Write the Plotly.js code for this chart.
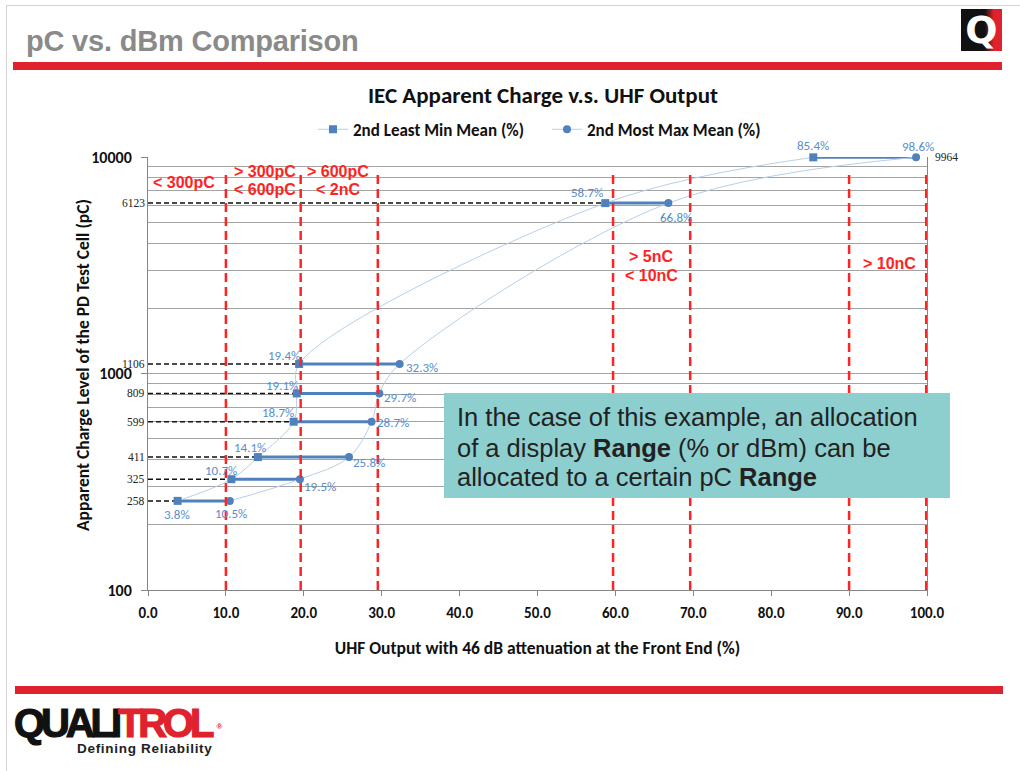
<!DOCTYPE html>
<html>
<head>
<meta charset="utf-8">
<script src="https://cdn.plot.ly/plotly-3.0.1.min.js"></script>
<style>
  html, body { margin: 0; padding: 0; background: #fff; }
  #wrap { position: relative; width: 1020px; height: 771px; overflow: hidden; }
  #chart { position: absolute; left: 0; top: 0; width: 1020px; height: 771px; }
  .chrome { position: absolute; pointer-events: none; }
  #frameTop { left: 6px; top: 5px; width: 1014px; height: 0; border-top: 1px solid #d4d4d4; }
  #frameLeft { left: 6px; top: 5px; width: 0; height: 766px; border-left: 1px solid #d4d4d4; }
  #slideTitle { left: 26px; top: 23px; font-family: "Liberation Sans", Arial, sans-serif; font-weight: bold;
    font-size: 29px; color: #8a8a8a; white-space: nowrap; letter-spacing: -0.2px; line-height: 36px; }
  #barTop { left: 13px; top: 62px; width: 989px; height: 8px; background: #e0212e; }
  #barBottom { left: 15px; top: 686px; width: 988px; height: 8px; background: #e0212e; }
  #qlogo { left: 961px; top: 9px; width: 41px; height: 42px;
    background: linear-gradient(90deg, #111 0%, #111 58%, #e0212e 80%, #e0212e 100%); }
  #qlogo span { position: absolute; left: 0; top: 0; width: 41px; text-align: center; font-family: "DejaVu Sans", sans-serif;
    font-weight: bold; font-size: 38px; color: #fff; line-height: 42px; }
  #brand { left: 14px; top: 707px; height: 32px; font-family: "Liberation Sans", Arial, sans-serif; font-weight: bold;
    font-size: 40px; letter-spacing: -4.1px; white-space: nowrap; -webkit-text-stroke: 1.2px currentColor; line-height: 32px; }
  #brand span { display: inline-block; height: 32px; line-height: 32px; vertical-align: top; overflow: visible; }
  #brand .q { color: #111; }
  #brand .t { color: #e0212e; }
  #brand .r { font-size: 8px; letter-spacing: 0; -webkit-text-stroke: 0; line-height: 12px; height: 12px; margin: 14px 0 0 6px; }
  #tagline { left: 77px; top: 742px; font-family: "Liberation Sans", Arial, sans-serif; font-weight: bold;
    font-size: 13.5px; color: #222; white-space: nowrap; letter-spacing: 0.7px; line-height: 14px; }
</style>
</head>
<body>
<div id="wrap">
  <div id="chart"></div>
  <div class="chrome" id="frameTop"></div>
  <div class="chrome" id="frameLeft"></div>
  <div class="chrome" id="slideTitle">pC vs. dBm Comparison</div>
  <div class="chrome" id="barTop"></div>
  <div class="chrome" id="qlogo"><span>Q</span></div>
  <div class="chrome" id="barBottom"></div>
  <div class="chrome" id="brand"><span class="q">QUALI</span><span class="t">TROL</span><span class="t r">®</span></div>
  <div class="chrome" id="tagline">Defining Reliability</div>
</div>
<script>
// ---------------- data ----------------
const chargeLevels = [258, 325, 411, 599, 809, 1106, 6123, 9964];   // pC
const minMean = [3.8, 10.7, 14.1, 18.7, 19.1, 19.4, 58.7, 85.4];    // 2nd Least Min Mean (%)
const maxMean = [10.5, 19.5, 25.8, 28.7, 29.7, 32.3, 66.8, 98.6];   // 2nd Most Max Mean (%)
const seriesNames = ['2nd Least Min Mean (%)', '2nd Most Max Mean (%)'];
const rangeBoundaries = [10, 19.6, 29.5, 59.7, 69.6, 90, 99.9];      // % boundaries (red dashed)
const rangeLabels = ['< 300pC', '> 300pC', '< 600pC', '> 600pC', '< 2nC', '> 5nC', '< 10nC', '> 10nC'];
const yTickValues = [100, 1000, 10000];
const chartTitle = 'IEC Apparent Charge v.s. UHF Output';
const xTitle = 'UHF Output with 46 dB attenuation at the Front End (%)';
const yTitle = 'Apparent Charge Level of the PD Test Cell (pC)';
const noteLines = ['In the case of this example, an allocation',
                   'of a display <b>Range</b> (% or dBm) can be',
                   'allocated to a certain pC <b>Range</b>'];

// ---------------- style ----------------
const FONT = 'Carlito, Lato, "Open Sans", sans-serif';
const BLUE = '#4f81bd';
const LIGHT = '#b8cfe8';
const LABEL = '#5a8cc8';
const RED = '#ff2424';
const GRID = '#a3a3a3';

// pixel offsets of the value labels from their markers (style)
const minShift = [[-1, 14], [-10, -9], [-8, -10], [-16, -9], [-15, -8], [-15, -9], [-18, -11], [0, -12]];
const maxShift = [[1, 13], [20, 7], [20, 5], [21, 1], [21, 4], [22, 3], [8, 14], [2, -11]];
const rangeLabelPlace = [
  {x: 4.65, y: 0.941}, {x: 14.98, y: 0.966}, {x: 14.98, y: 0.924},
  {x: 24.45, y: 0.966}, {x: 24.45, y: 0.924},
  {x: 64.6, y: 0.771}, {x: 64.6, y: 0.727}, {x: 95.2, y: 0.753}
];
const notePlaceY = [0.400, 0.328, 0.261];

// ---------------- traces ----------------
const dashX = [], dashY = [], segX = [], segY = [];
chargeLevels.forEach((v, i) => {
  if (i < chargeLevels.length - 1) { dashX.push(0, minMean[i], null); dashY.push(v, v, null); }
  segX.push(minMean[i], maxMean[i], null); segY.push(v, v, null);
});

const traces = [
  {x: dashX, y: dashY, mode: 'lines', line: {color: '#111', width: 1.5, dash: '5px,3px'},
   showlegend: false, hoverinfo: 'skip', cliponaxis: false},
  {x: segX, y: segY, mode: 'lines', line: {color: BLUE, width: 3}, showlegend: false, hoverinfo: 'skip'},
  {x: minMean, y: chargeLevels, name: seriesNames[0], mode: 'lines+markers',
   line: {color: LIGHT, width: 1, shape: 'spline', smoothing: 1},
   marker: {symbol: 'square', size: 8, color: BLUE}, cliponaxis: false},
  {x: maxMean, y: chargeLevels, name: seriesNames[1], mode: 'lines+markers',
   line: {color: LIGHT, width: 1, shape: 'spline', smoothing: 1},
   marker: {symbol: 'circle', size: 8, color: BLUE}, cliponaxis: false}
];

// ---------------- shapes ----------------
const shapes = rangeBoundaries.map(b => ({
  type: 'line', xref: 'x', yref: 'paper', x0: b, x1: b, y0: 0, y1: 0.97,
  line: {color: RED, width: 2.5, dash: '9px,5px'}, layer: 'above'
}));
shapes.push({type: 'rect', xref: 'paper', yref: 'paper', x0: 0.380, x1: 1.0295, y0: 0.2125, y1: 0.455,
  fillcolor: '#8dcfcf', line: {width: 0}, layer: 'above'});

// ---------------- annotations ----------------
const annotations = [];
const valueLabel = (xs, shifts) => xs.forEach((xv, i) => annotations.push({
  xref: 'x', yref: 'y', x: xv, y: Math.log10(chargeLevels[i]), xanchor: 'center', yanchor: 'middle',
  xshift: shifts[i][0], yshift: -shifts[i][1], showarrow: false, text: xv.toFixed(1) + '%',
  font: {family: FONT, size: 13, color: LABEL}
}));
valueLabel(minMean, minShift);
valueLabel(maxMean, maxShift);

chargeLevels.forEach((v, i) => {
  const last = i === chargeLevels.length - 1;
  annotations.push({
    xref: 'paper', yref: 'y', x: last ? 1 : 0, y: Math.log10(v), xshift: last ? 7 : -2,
    xanchor: last ? 'left' : 'right', yanchor: 'middle', showarrow: false, borderpad: 0,
    text: String(v), font: {family: '"Liberation Serif", serif', size: 11.5, color: '#222'}
  });
});
rangeLabels.forEach((t, i) => {
  annotations.push({
    xref: 'x', yref: 'paper', x: rangeLabelPlace[i].x, y: rangeLabelPlace[i].y,
    xanchor: 'center', yanchor: 'middle', showarrow: false,
    text: '<b>' + t.replace(/</g, '&lt;').replace(/>/g, '&gt;') + '</b>',
    font: {family: '"Liberation Sans", Arial, sans-serif', size: 16, color: RED}
  });
});
noteLines.forEach((t, i) => annotations.push({
  xref: 'paper', yref: 'paper', x: 0.394, y: notePlaceY[i], xanchor: 'left', yanchor: 'middle',
  align: 'left', showarrow: false, text: t,
  font: {family: '"Liberation Sans", Arial, sans-serif', size: 25.5, color: '#222'}
}));
// y-axis title placed as in the reference (slightly above the plot centre)
annotations.push({
  xref: 'paper', yref: 'paper', x: -0.0834, y: 0.5196, xanchor: 'center', yanchor: 'middle',
  textangle: -90, showarrow: false, text: '<b>' + yTitle + '</b>',
  font: {family: FONT, size: 17.5, color: '#111'}
});

// ---------------- minor grid (log decades 2..9) ----------------
const minorVals = [];
for (let d = 100; d < 10000; d *= 10) for (let k = 2; k <= 9; k++) minorVals.push(k * d);

const layout = {
  width: 1020, height: 771,
  margin: {l: 148, r: 93, t: 157, b: 181},
  paper_bgcolor: 'rgba(0,0,0,0)', plot_bgcolor: '#fff',
  font: {family: FONT, color: '#111'},
  title: {text: '<b>' + chartTitle + '</b>', font: {family: FONT, size: 23, color: '#111'},
    xref: 'paper', x: 0.507, xanchor: 'center', yref: 'container', y: 1 - 95 / 771, yanchor: 'middle'},
  showlegend: true,
  legend: {orientation: 'h', x: 0.2118, xanchor: 'left', y: 1.063, yanchor: 'middle',
    entrywidth: 189, entrywidthmode: 'pixels',
    font: {family: FONT, size: 17, color: '#111', weight: 'bold'}, bgcolor: 'rgba(0,0,0,0)', itemwidth: 30},
  xaxis: {
    range: [0, 100], dtick: 10, tickformat: '.1f', showgrid: false, zeroline: false,
    showline: true, linecolor: '#868686', linewidth: 1, ticks: 'outside', ticklen: 5, tickcolor: '#868686',
    tickfont: {family: FONT, size: 15, color: '#111', weight: 'bold'}, ticklabelstandoff: 4,
    title: {text: '<b>' + xTitle + '</b>', font: {family: FONT, size: 17.5, color: '#111'}, standoff: 20}
  },
  yaxis: {
    type: 'log', range: [2, 4], tickmode: 'array', tickvals: yTickValues, ticktext: yTickValues.map(String),
    showgrid: true, gridcolor: GRID, gridwidth: 1, zeroline: false,
    minor: {tickmode: 'array', tickvals: minorVals, showgrid: true, gridcolor: GRID, gridwidth: 1, ticks: ''},
    showline: true, mirror: true, linecolor: '#868686', linewidth: 1, ticks: 'outside', ticklen: 6, tickcolor: '#868686',
    tickfont: {family: FONT, size: 16, color: '#111', weight: 'bold'}, ticklabelstandoff: 6
  },
  shapes: shapes,
  annotations: annotations
};

Plotly.newPlot('chart', traces, layout, {displayModeBar: false, staticPlot: true});
</script>
</body>
</html>
